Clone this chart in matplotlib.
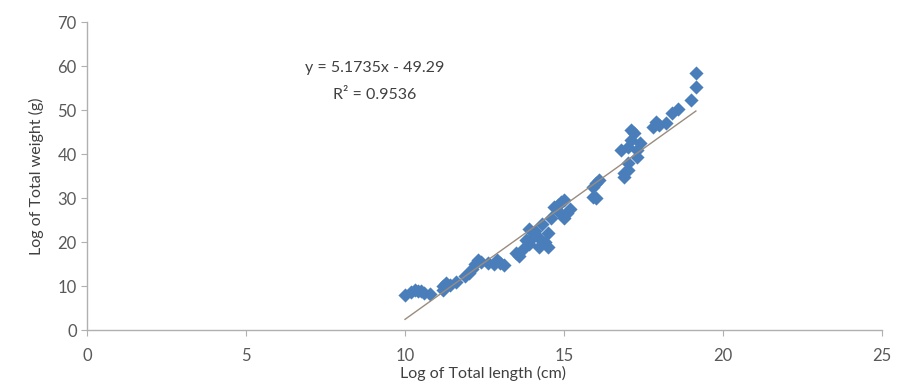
import numpy as np
import matplotlib
matplotlib.use("Agg")
import matplotlib.pyplot as plt

# Log of total length (cm) vs log of total weight (g)
length = [10.0, 10.2, 10.3, 10.4, 10.6, 10.8, 10.5,
          11.2, 11.3, 11.4, 11.6, 11.2,
          11.9, 12.0, 12.1, 12.2, 12.3, 12.4, 12.6,
          12.8, 13.0, 13.1, 12.9,
          13.5, 13.6, 13.7, 13.8, 13.9, 14.0, 14.1, 14.2, 14.2, 14.3, 14.4, 14.5, 14.5, 13.9,
          14.6, 14.7, 14.8, 14.9, 15.0, 15.1, 15.2, 14.8, 15.0,
          15.9, 15.9, 16.0, 16.1, 16.0,
          16.8, 16.9, 16.9, 17.0, 17.0, 17.1, 17.1, 17.2, 17.3, 17.3, 17.4, 17.0,
          17.8, 17.9, 18.0, 18.2, 18.4, 18.6, 19.0, 19.15, 19.15]
weight = [8.0, 8.6, 9.1, 9.0, 8.4, 8.2, 8.8,
          9.2, 10.7, 10.2, 11.0, 10.0,
          12.3, 12.9, 13.8, 15.0, 15.9, 15.5, 15.2,
          15.0, 15.2, 14.8, 16.0,
          17.5, 16.8, 18.5, 20.4, 19.6, 21.0, 22.5, 21.0, 18.8, 24.0, 20.0, 18.9, 22.0, 23.0,
          25.5, 28.0, 27.0, 29.0, 29.5, 26.6, 27.5, 28.5, 25.5,
          32.5, 30.2, 30.0, 34.0, 33.5,
          40.9, 35.7, 34.8, 36.4, 41.6, 45.5, 43.2, 44.8, 39.3, 41.0, 42.5, 38.0,
          46.1, 47.3, 46.6, 47.0, 49.3, 50.2, 52.3, 55.2, 58.4]

slope = 5.1735
intercept = -49.29
r_squared = 0.9536

x_ticks = [0, 5, 10, 15, 20, 25]
y_ticks = [0, 10, 20, 30, 40, 50, 60, 70]

fig = plt.figure(figsize=(8.98, 3.87), dpi=100)
ax = fig.add_axes([0.097, 0.147, 0.885, 0.796])

ax.scatter(length, weight, marker='D', s=52, color='#4a7ebb', zorder=3, linewidths=0)

fit_x = np.array([min(length), max(length)])
ax.plot(fit_x, slope * fit_x + intercept, color='#9a8c7e', lw=1, zorder=4)

ax.set_xlim(0, 25)
ax.set_ylim(0, 70)
ax.set_xticks(x_ticks)
ax.set_yticks(y_ticks)

for side in ['top', 'right']:
    ax.spines[side].set_visible(False)
for side in ['left', 'bottom']:
    ax.spines[side].set_color('#b0b0b0')
    ax.spines[side].set_linewidth(1)
ax.tick_params(axis='both', colors='#b0b0b0', labelcolor='#595959', labelsize=12,
               length=4, direction='out')
ax.tick_params(axis='x', pad=9)
for lbl in ax.get_xticklabels() + ax.get_yticklabels():
    lbl.set_family('Lato')

ax.set_ylabel('Log of Total weight (g)', fontsize=11.5, color='#404040', family='Lato', labelpad=10)
fig.text(483 / 898, 1 - 373 / 387, 'Log of Total length (cm)', fontsize=11.5, color='#404040',
         family='Lato', ha='center', va='center')

ax.text(375 / 898, 1 - 68 / 387, f'y = {slope}x - {abs(intercept)}', transform=fig.transFigure,
        fontsize=11.5, color='#404040', family='Lato', ha='center', va='center')
ax.text(375 / 898, 1 - 95 / 387, f'R² = {r_squared}', transform=fig.transFigure,
        fontsize=11.5, color='#404040', family='Lato', ha='center', va='center')

fig.savefig('out.png', dpi=100)
